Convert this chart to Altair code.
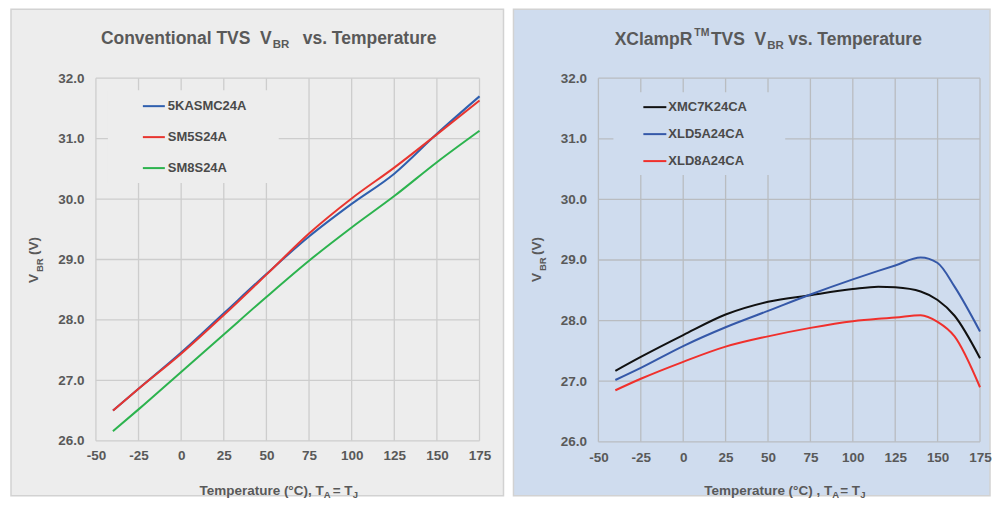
import altair as alt
import pandas as pd

# ---------------- data ----------------
temps_left = [-40, -25, 0, 25, 50, 75, 100, 125, 150, 175]
v_5kasmc24a = [26.50, 26.86, 27.46, 28.11, 28.76, 29.38, 29.92, 30.42, 31.08, 31.70]
v_sm5s24a = [26.50, 26.86, 27.44, 28.08, 28.75, 29.43, 30.01, 30.52, 31.07, 31.63]
v_sm8s24a = [26.16, 26.52, 27.14, 27.76, 28.38, 28.98, 29.53, 30.05, 30.61, 31.13]

temps_right = [-40, -25, 0, 25, 50, 75, 100, 115, 125, 140, 150, 160, 175]
v_xmc7k24ca = [27.17, 27.40, 27.76, 28.10, 28.31, 28.42, 28.52, 28.56, 28.55, 28.48, 28.34, 28.08, 27.38]
v_xld5a24ca = [27.02, 27.22, 27.58, 27.89, 28.16, 28.43, 28.68, 28.82, 28.91, 29.04, 28.95, 28.56, 27.82]
v_xld8a24ca = [26.85, 27.04, 27.32, 27.57, 27.74, 27.88, 27.99, 28.03, 28.05, 28.09, 27.98, 27.74, 26.90]

left_names = ["5KASMC24A", "SM5S24A", "SM8S24A"]
left_colors = ["#2f5fae", "#e8352f", "#2cb34e"]
right_names = ["XMC7K24CA", "XLD5A24CA", "XLD8A24CA"]
right_colors = ["#111111", "#3558a8", "#f0302c"]

x_ticks = [-50, -25, 0, 25, 50, 75, 100, 125, 150, 175]
y_ticks = [26.0, 27.0, 28.0, 29.0, 30.0, 31.0, 32.0]

FONT = "Liberation Sans"
GRAY_TXT = "#595959"
NB = "\u00a0"


def long_df(temps, names, series):
    rows = []
    for n, vals in zip(names, series):
        for t, v in zip(temps, vals):
            rows.append({"T": t, "V": v, "series": n})
    return pd.DataFrame(rows)


one = pd.DataFrame({"k": [0]})


def txt(text, x, y, size, align="left", angle=0, baseline="alphabetic", color=GRAY_TXT):
    kw = dict(text=text, font=FONT, fontWeight="bold", fontSize=size, align=align,
              baseline=baseline, color=color)
    if angle:
        kw["angle"] = angle
    return alt.Chart(one).mark_text(**kw).encode(x=alt.value(x), y=alt.value(y))


def panel(df, names, colors, width, height, bg, border, grid_color, title_parts,
          ytitle_parts, xtitle_parts, legend_box, legend_rows, legend_line, legend_text_x,
          bg_box, xlabpad, ylabpad):
    xscale = alt.Scale(domain=[-50, 175], nice=False, zero=False)
    yscale = alt.Scale(domain=[26, 32], nice=False, zero=False)
    ax_x = alt.Axis(values=x_ticks, grid=False, ticks=False, domain=False, title=None,
                    labelExpr="'' + datum.value",
                    labelFont=FONT, labelFontSize=13.5, labelFontWeight="bold",
                    labelColor=GRAY_TXT, labelPadding=xlabpad, labelFlush=False, zindex=2)
    ax_y = alt.Axis(values=y_ticks, grid=False, ticks=False, domain=False, title=None,
                    format=".1f", labelFont=FONT, labelFontSize=13.5, labelFontWeight="bold",
                    labelColor=GRAY_TXT, labelPadding=ylabpad, zindex=2)

    bgrect = alt.Chart(one).mark_rect(fill=bg, stroke=border, strokeWidth=1.5).encode(
        x=alt.value(bg_box[0]), x2=alt.value(bg_box[1]),
        y=alt.value(bg_box[2]), y2=alt.value(bg_box[3]))

    gx = alt.Chart(pd.DataFrame({"t": x_ticks})).mark_rule(color=grid_color, strokeWidth=1.3).encode(
        x=alt.X("t:Q", scale=xscale, axis=ax_x))
    gy = alt.Chart(pd.DataFrame({"v": y_ticks})).mark_rule(color=grid_color, strokeWidth=1.3).encode(
        y=alt.Y("v:Q", scale=yscale, axis=ax_y))

    lbox = alt.Chart(one).mark_rect(fill=bg).encode(
        x=alt.value(legend_box[0]), x2=alt.value(legend_box[1]),
        y=alt.value(legend_box[2]), y2=alt.value(legend_box[3]))

    cscale = alt.Scale(domain=names, range=colors)
    lines = alt.Chart(df).mark_line(strokeWidth=2, interpolate="monotone").encode(
        x=alt.X("T:Q", scale=xscale, axis=ax_x),
        y=alt.Y("V:Q", scale=yscale, axis=ax_y),
        color=alt.Color("series:N", scale=cscale, legend=None),
        detail="series:N",
    )

    layers = [bgrect, gx, gy, lbox, lines]
    for n, c, ry in zip(names, colors, legend_rows):
        layers.append(alt.Chart(one).mark_rule(color=c, strokeWidth=2).encode(
            x=alt.value(legend_line[0]), x2=alt.value(legend_line[1]),
            y=alt.value(ry), y2=alt.value(ry)))
        layers.append(txt(n, legend_text_x, ry, 13, baseline="middle", color="#4a4a4a"))
    for p in title_parts + ytitle_parts + xtitle_parts:
        layers.append(txt(*p))
    return alt.layer(*layers).properties(width=width, height=height)


left_df = long_df(temps_left, left_names, [v_5kasmc24a, v_sm5s24a, v_sm8s24a])
right_df = long_df(temps_right, right_names, [v_xmc7k24ca, v_xld5a24ca, v_xld8a24ca])

left = panel(
    left_df, left_names, left_colors, 384, 363,
    bg="#ededed", border="#d2d2d2", grid_color="#cdcdcd",
    title_parts=[
        ("Conventional TVS" + NB + NB + "V", 176, -34, 17.5, "right"),
        ("BR", 177, -30, 11.5, "left"),
        ("vs. Temperature", 207, -34, 17.5, "left"),
    ],
    ytitle_parts=[
        ("V", -58, 205, 13.5, "left", 270),
        ("BR", -53, 194, 9.5, "left", 270),
        ("(V)", -58, 177, 13.5, "left", 270),
    ],
    xtitle_parts=[
        ("Temperature (°C), T", 228, 417, 13.5, "right"),
        ("A", 228, 420, 9.5, "left"),
        ("= T", 237, 417, 13.5, "left"),
        ("J", 257, 420, 9.5, "left"),
    ],
    legend_box=(12, 183, 12, 105),
    legend_rows=[28, 59, 90],
    legend_line=(47, 69),
    legend_text_x=72,
    bg_box=(-85, 408, -69, 418),
    xlabpad=8, ylabpad=12,
)

right = panel(
    right_df, right_names, right_colors, 382, 364,
    bg="#cfdcee", border="#d2d2d2", grid_color="#b9bcc0",
    title_parts=[
        ("XClampR", 94, -33, 17.5, "right"),
        ("TM", 96, -42, 10.5, "left"),
        ("TVS" + NB + NB + "V", 168, -33, 17.5, "right"),
        ("BR", 169, -29, 11.5, "left"),
        ("vs. Temperature", 190, -33, 17.5, "left"),
    ],
    ytitle_parts=[
        ("V", -57, 204, 13.5, "left", 270),
        ("BR", -52, 193, 9.5, "left", 270),
        ("(V)", -57, 177, 13.5, "left", 270),
    ],
    xtitle_parts=[
        ("Temperature (°C) , T", 234, 417, 13.5, "right"),
        ("A", 234, 420, 9.5, "left"),
        ("= T", 242, 417, 13.5, "left"),
        ("J", 262, 420, 9.5, "left"),
    ],
    legend_box=(15, 187, 14, 97),
    legend_rows=[29, 56, 83],
    legend_line=(45, 68),
    legend_text_x=70,
    bg_box=(-85, 392, -69, 418),
    xlabpad=9, ylabpad=12,
)

chart = alt.hconcat(left, right, spacing=119, bounds="flush").resolve_scale(
    color="independent", x="independent", y="independent"
).properties(
    padding={"left": 2, "top": 0, "right": 0, "bottom": 0},
    background="white",
).configure_view(stroke=None)

chart.save("out.html", embed_options={"renderer": "svg", "actions": False})
